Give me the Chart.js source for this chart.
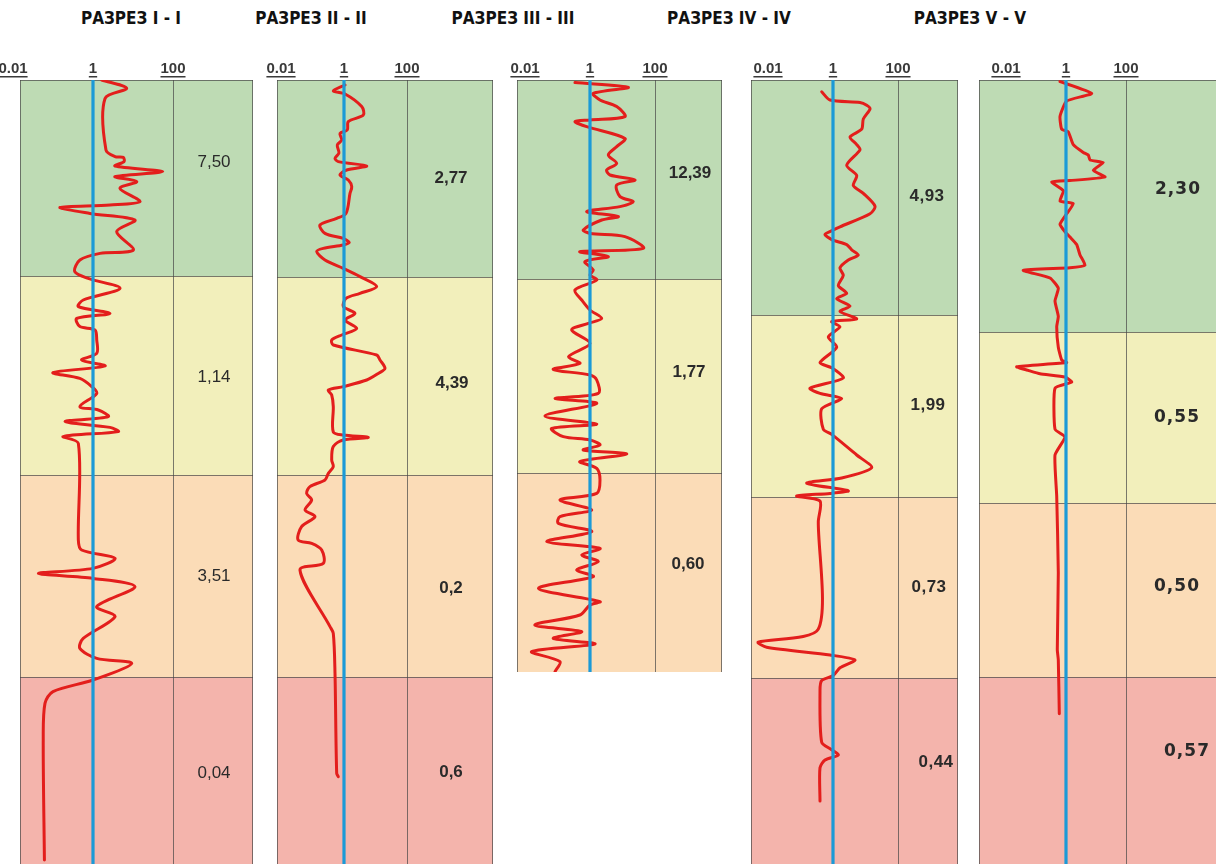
<!DOCTYPE html>
<html><head><meta charset="utf-8">
<script src="https://cdn.jsdelivr.net/npm/chart.js@4.4.1/dist/chart.umd.min.js"></script>
<style>
html,body{margin:0;padding:0;background:#fff;width:1216px;height:864px;overflow:hidden;position:relative}
.title{position:absolute;top:8px;font-family:"Liberation Sans Narrow","DejaVu Sans Condensed","Liberation Sans",sans-serif;font-weight:bold;font-size:17px;color:#111;white-space:nowrap;transform:translateX(-50%)}
.panel{position:absolute}
</style></head><body>
<script>
// ---- data ----
const sectionTitles = ['РАЗРЕЗ I - I','РАЗРЕЗ II - II','РАЗРЕЗ III - III','РАЗРЕЗ IV - IV','РАЗРЕЗ V - V'];
const tickValues = [0.01, 1, 100];
const tickLabels = ['0.01', '1', '100'];
const zoneColors = ['#bedbb4', '#f2efbb', '#fbdcb7', '#f4b4ac'];

// zone boundaries (depth) for each section
const zones1 = [0, 9.8, 19.75, 29.85, 39.2];
const zones2 = [0, 9.85, 19.75, 29.85, 39.2];
const zones3 = [0, 9.95, 19.65, 29.6];
const zones4 = [0, 11.75, 20.85, 29.9, 39.2];
const zones5 = [0, 12.6, 21.15, 29.85, 39.2];

// values written in the right column of each zone
const zoneValues1 = ['7,50', '1,14', '3,51', '0,04'];
const zoneValues2 = ['2,77', '4,39', '0,2', '0,6'];
const zoneValues3 = ['12,39', '1,77', '0,60'];
const zoneValues4 = ['4,93', '1,99', '0,73', '0,44'];
const zoneValues5 = ['2,30', '0,55', '0,50', '0,57'];

// curves: depth and resistivity
const depth1 = [0.0,0.42,0.92,3.5,3.83,3.87,4.08,4.3,4.58,4.83,5.08,5.42,6.08,6.25,6.37,6.67,7.0,7.58,8.5,8.67,9.0,9.58,9.92,10.42,11.0,11.33,11.67,11.92,12.33,12.5,13.0,13.67,14.0,14.3,14.63,14.92,15.33,15.67,16.33,16.5,16.83,17.08,17.37,17.58,17.83,18.17,23.0,23.5,23.92,24.42,24.67,24.92,25.33,26.33,26.83,27.92,28.42,28.92,29.17,30.0,30.58,31.17,33.0,39.0];
const rho1 = [1.65,6.96,2.0,2.11,3.55,5.72,5.96,3.55,55.3,3.55,12.4,4.73,15.0,2.66,0.15,0.84,11.2,3.91,10.2,1.5,0.47,0.35,0.76,4.73,0.57,0.43,2.66,0.39,0.47,1.12,1.24,1.24,0.52,2.0,0.10,0.47,0.93,1.24,0.47,1.36,2.41,0.20,2.66,4.29,0.18,0.43,0.43,0.52,3.55,1.0,0.043,1.0,11.2,1.24,3.55,0.57,0.47,1.24,9.28,1.0,0.10,0.063,0.057,0.061];

const depth2 = [0.25,0.55,0.7,1.33,1.75,2.08,2.5,2.67,3.0,3.25,3.65,3.92,4.08,4.3,4.5,4.75,5.0,5.33,5.67,6.67,6.92,7.25,7.67,7.92,8.13,8.25,8.42,8.58,9.0,9.42,9.83,10.33,10.67,10.92,11.33,11.67,12.0,12.42,12.75,13.0,13.25,13.75,14.0,14.42,14.67,15.0,15.33,15.5,15.75,16.33,17.6,17.75,17.87,18.0,18.33,19.0,19.33,19.67,20.0,20.33,20.67,21.0,21.5,21.83,22.33,23.0,23.17,23.5,24.17,24.5,27.33,27.67,29.67,34.67,34.83];
const rho2 = [1.08,0.457,1.08,3.65,4.10,1.37,1.27,0.746,0.845,0.613,0.69,0.518,0.659,5.26,1.22,0.746,1.37,1.76,1.55,1.16,0.586,0.173,0.249,0.95,1.47,0.95,0.22,0.136,0.249,0.95,3.22,10.9,3.22,1.16,0.95,2.23,1.08,2.53,0.845,0.407,0.457,10.9,13.9,20.0,12.3,5.26,0.95,0.318,0.407,0.457,0.457,0.95,5.91,0.95,0.457,0.407,0.457,0.318,0.249,0.083,0.065,0.094,0.058,0.12,0.045,0.035,0.094,0.196,0.22,0.040,0.36,0.457,0.518,0.586,0.659];

const depth3 = [0.13,0.37,0.67,1.0,1.33,1.83,2.0,2.08,2.33,2.92,3.33,3.75,4.17,4.5,4.75,5.0,5.25,5.83,6.08,6.33,6.58,6.83,7.0,7.5,7.67,7.83,8.42,8.58,8.83,9.08,9.5,9.75,10.0,10.5,11.0,11.5,11.92,12.17,12.5,13.17,13.83,14.17,14.47,14.75,15.0,15.67,15.92,16.17,16.8,17.2,17.42,17.83,18.0,18.25,18.5,18.7,19.08,19.42,20.0,20.67,21.0,21.5,21.83,22.17,22.58,23.08,23.42,23.75,24.08,24.5,24.83,25.42,26.08,26.25,26.75,27.25,27.58,27.92,28.2,28.58,29.08,29.58];
const rho3 = [0.345,15.1,1.26,2.03,6.63,11.9,1.0,0.345,0.79,11.9,6.63,3.66,6.63,3.26,4.12,24.3,6.63,8.38,21.5,8.38,0.79,7.43,2.29,0.622,1.0,11.9,43.6,0.49,3.66,0.70,1.26,1.0,1.61,0.345,0.556,1.0,2.29,0.887,0.273,1.0,0.22,0.49,0.074,1.0,1.61,1.80,0.084,1.61,0.041,1.61,0.066,0.151,1.0,2.03,0.622,13.5,0.49,1.61,2.03,1.61,0.119,1.13,0.119,0.106,1.13,0.047,2.03,0.556,1.80,0.39,1.26,0.026,2.03,1.0,0.49,0.020,0.556,0.074,1.43,0.016,0.119,0.084];

const depth4 = [0.59,1.0,1.12,1.26,1.44,1.95,2.46,2.85,3.23,3.49,4.26,4.77,5.28,5.67,6.31,6.69,7.34,7.46,7.72,7.98,8.23,8.49,8.75,9.0,9.39,9.77,10.28,10.67,10.93,11.31,11.57,11.95,12.08,12.34,12.85,13.36,14.13,14.39,14.9,15.41,15.67,15.93,16.44,17.46,17.72,18.75,19.39,19.9,20.16,20.54,20.67,20.8,21.05,22.08,27.46,28.11,28.36,28.75,29.0,29.39,29.77,30.03,30.54,33.11,33.49,33.75,34.0,34.39,36.05];
const rho4 = [0.449,0.809,6.77,10.9,13.8,8.56,7.64,3.34,5.36,6.77,2.64,5.36,4.21,8.56,19.6,13.8,1.64,1.15,0.567,0.912,2.64,3.76,6.0,2.96,1.64,2.07,1.46,2.64,1.30,3.34,1.64,5.36,0.912,1.64,0.717,1.30,0.398,0.912,2.07,0.196,0.398,1.85,0.449,0.503,0.912,5.36,15.5,1.85,0.155,2.96,0.809,0.076,0.398,0.353,0.353,0.0050,0.0091,0.809,4.75,1.64,1.02,0.449,0.398,0.449,0.912,1.46,0.567,0.398,0.398];

const depth5 = [0.08,0.67,1.05,1.82,2.46,2.59,3.23,3.62,3.75,4.0,4.13,4.52,4.85,5.03,5.1,5.54,6.05,6.18,6.69,7.21,7.59,7.85,8.23,8.75,9.26,9.39,9.52,9.9,10.41,11.05,11.82,12.34,13.36,14.0,14.13,14.34,14.52,14.69,14.85,15.1,15.41,17.46,17.85,18.75,20.8,24.64,28.49,29.0,31.69];
const rho5 = [0.631,7.19,1.05,0.631,0.719,1.19,1.75,3.77,5.54,6.31,17.5,8.13,19.95,1.36,0.334,0.813,0.631,1.75,1.05,0.631,0.926,1.36,2.27,2.93,4.30,1.36,0.0377,0.293,0.554,0.430,0.554,0.49,0.554,0.719,1.05,0.0227,0.0554,0.136,0.926,1.55,0.430,0.430,0.926,0.430,0.49,0.554,0.513,0.554,0.598];

// ---- layout (page pixels) ----
const layout = [
  {left:20,  one:93,   div:173,  right:253,  bottom:864, titleX:131, labelX:[214,214,214,214],     labelY:[162,377,576,773]},
  {left:277, one:344,  div:407,  right:493,  bottom:864, titleX:311, labelX:[451,452,451,451],     labelY:[178,383,588,772]},
  {left:517, one:590,  div:655,  right:722,  bottom:672, titleX:513, labelX:[690,689,688],         labelY:[173,372,564]},
  {left:751, one:833,  div:898,  right:958,  bottom:864, titleX:729, labelX:[927,928,929,936],     labelY:[196,405,587,762]},
  {left:979, one:1066, div:1126, right:1217, bottom:864, titleX:970, labelX:[1178,1177,1177,1187], labelY:[190,418,587,752]}
];
const sections = [
  {depth:depth1, rho:rho1, zones:zones1, values:zoneValues1, tension:0.3, font:'17px "Liberation Sans", Arial, sans-serif', spacing:'0px'},
  {depth:depth2, rho:rho2, zones:zones2, values:zoneValues2, tension:0.3, font:'bold 17px "Liberation Sans", Arial, sans-serif', spacing:'0px'},
  {depth:depth3, rho:rho3, zones:zones3, values:zoneValues3, tension:0.3, font:'bold 17px "Liberation Sans", Arial, sans-serif', spacing:'0px'},
  {depth:depth4, rho:rho4, zones:zones4, values:zoneValues4, tension:0.25, font:'bold 17px "Liberation Sans", Arial, sans-serif', spacing:'0.5px'},
  {depth:depth5, rho:rho5, zones:zones5, values:zoneValues5, tension:0.15, font:'bold 17px "DejaVu Sans", sans-serif', spacing:'1px'}
];
const TOP = 80, AXIS_H = 24;
const tickFont = {family:'"Liberation Sans", Arial, sans-serif', size:15, weight:'bold'};

const zonePlugin = {
  id: 'zones',
  beforeDatasetsDraw(chart, args, o) {
    const {ctx, chartArea: a, scales: {x, y}} = chart;
    const b = o.bounds;
    ctx.save();
    for (let i = 0; i < b.length - 1; i++) {
      const t = y.getPixelForValue(b[i]), bt = y.getPixelForValue(b[i + 1]);
      ctx.fillStyle = zoneColors[i];
      ctx.fillRect(a.left, t, a.right - a.left, bt - t);
    }
    ctx.strokeStyle = 'rgba(70,70,70,0.7)';
    ctx.lineWidth = 1;
    ctx.beginPath();
    for (let i = 0; i < b.length; i++) {
      const t = Math.round(y.getPixelForValue(b[i])) + 0.5;
      ctx.moveTo(a.left, t); ctx.lineTo(a.right, t);
    }
    const dv = Math.round(x.getPixelForValue(100)) + 0.5;
    [a.left + 0.5, dv, a.right - 0.5].forEach(px => { ctx.moveTo(px, a.top); ctx.lineTo(px, a.bottom); });
    ctx.stroke();
    ctx.restore();
  },
  afterDraw(chart, args, o) {
    const {ctx, chartArea: a, scales: {x}} = chart;
    ctx.save();
    ctx.fillStyle = '#2a2a2a';
    ctx.font = o.font;
    ctx.letterSpacing = o.spacing;
    ctx.textAlign = 'center';
    ctx.textBaseline = 'middle';
    for (let i = 0; i < o.values.length; i++) {
      ctx.fillText(o.values[i], o.lx[i] - o.offX, o.ly[i] - TOP + a.top);
    }
    // underline tick labels
    ctx.letterSpacing = '0px';
    ctx.font = 'bold 15px "Liberation Sans", Arial, sans-serif';
    ctx.fillStyle = '#3a3a3a';
    x.ticks.forEach(t => {
      const k = tickValues.indexOf(t.value);
      if (k < 0) return;
      const px = x.getPixelForValue(t.value);
      const w = ctx.measureText(tickLabels[k]).width;
      ctx.fillRect(px - w / 2, a.top - 4, w, 1.5);
    });
    ctx.restore();
  }
};

sections.forEach((S, i) => {
  const L = layout[i];
  const t = document.createElement('div');
  t.className = 'title'; t.textContent = sectionTitles[i]; t.style.left = L.titleX + 'px';
  document.body.appendChild(t);

  const dec = (L.div - L.one) / 2;
  const xmin = Math.pow(10, -(L.one - L.left) / dec);
  const xmax = Math.pow(10, 2 + (L.right - L.div) / dec);
  const padL = 40, padR = 20;
  const plotH = L.bottom - TOP;
  const w = padL + (L.right - L.left) + padR, h = AXIS_H + plotH;
  const ymax = S.zones[S.zones.length - 1];

  const box = document.createElement('div');
  box.className = 'panel';
  box.style.left = (L.left - padL) + 'px';
  box.style.top = (TOP - AXIS_H) + 'px';
  const cv = document.createElement('canvas');
  cv.width = w; cv.height = h; cv.style.width = w + 'px'; cv.style.height = h + 'px';
  box.appendChild(cv); document.body.appendChild(box);

  const popts = {bounds: S.zones, values: S.values, font: S.font, spacing: S.spacing, lx: L.labelX, ly: L.labelY, offX: L.left - padL};
  const chart = new Chart(cv, {
    type: 'scatter',
    data: {datasets: [
      {data: [{x: 1, y: 0}, {x: 1, y: ymax}], borderColor: '#1b9ad7', borderWidth: 3.2, showLine: true, pointRadius: 0, tension: 0},
      {data: S.depth.map((d, k) => ({x: S.rho[k], y: d})), borderColor: '#e31e1c', borderWidth: 3, showLine: true, pointRadius: 0, tension: S.tension, borderJoinStyle: 'round', borderCapStyle: 'round'}
    ]},
    options: {
      responsive: false, animation: false, devicePixelRatio: 1,
      layout: {padding: {left: padL, right: padR, top: 0, bottom: 0}},
      plugins: {legend: {display: false}, tooltip: {enabled: false}, zones: popts},
      scales: {
        x: {type: 'logarithmic', position: 'top', min: xmin, max: xmax, bounds: 'data',
            grid: {display: false, drawTicks: false, tickLength: 0}, border: {display: false},
            afterBuildTicks: s => { s.ticks = tickValues.map(v => ({value: v})); },
            afterFit: s => { s.height = AXIS_H; },
            ticks: {autoSkip: false, maxRotation: 0, padding: 2, font: tickFont, color: '#3a3a3a',
                    callback: v => { const k = tickValues.indexOf(v); return k < 0 ? '' : tickLabels[k]; }}},
        y: {type: 'linear', reverse: true, min: 0, max: ymax, display: false}
      }
    },
    plugins: [zonePlugin]
  });
  const a = chart.chartArea;
  popts.offX = L.left - a.left;
  box.style.left = (L.left - a.left) + 'px';
  box.style.top = (TOP - a.top) + 'px';
  chart.draw();
});
</script>
</body></html>
